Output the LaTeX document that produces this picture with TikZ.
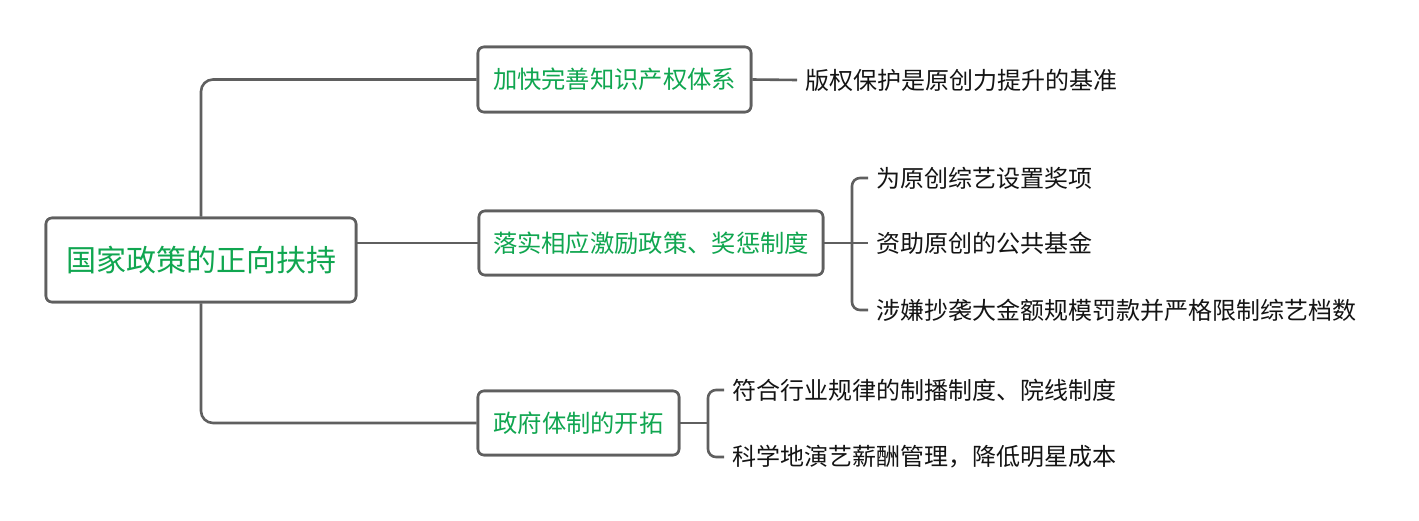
\documentclass[tikz,border=0pt]{standalone}
\usepackage{fontspec}
\newfontfamily\cjk{Noto Sans CJK SC}
\definecolor{linegray}{RGB}{95,95,95}
\definecolor{tgreen}{RGB}{16,166,80}
\definecolor{ttext}{RGB}{20,20,20}
\begin{document}
\begin{tikzpicture}[x=1pt,y=-1pt,
  box/.style={draw=linegray,line width=2.6pt,rounded corners=6pt,fill=white,
    text=tgreen,inner sep=0pt,font=\cjk\fontsize{24.3}{27}\selectfont},
  leaf/.style={anchor=west,inner xsep=8pt,inner ysep=2pt,text=ttext,font=\cjk\fontsize{24}{27}\selectfont},
  conn/.style={draw=linegray,line width=2.6pt,rounded corners=12pt},
  brk/.style={draw=linegray,line width=2.6pt,rounded corners=8pt}]
\useasboundingbox[fill=white] (0,0) rectangle (1419,520);
% main boxes
\node[box,minimum width=310pt,minimum height=84pt,font=\cjk\fontsize{30}{34}\selectfont] (root) at (201,260) {国家政策的正向扶持};
\node[box,minimum width=273pt,minimum height=65pt] (b1) at (614.5,79.5) {加快完善知识产权体系};
\node[box,minimum width=344pt,minimum height=64pt] (b2) at (651,243) {落实相应激励政策、奖惩制度};
\node[box,minimum width=201pt,minimum height=64pt] (b3) at (578.5,423) {政府体制的开拓};
% leaves
\node[leaf] (l1) at (797,80) {版权保护是原创力提升的基准};
\node[leaf] (l21) at (868,178) {为原创综艺设置奖项};
\node[leaf] (l22) at (868,243) {资助原创的公共基金};
\node[leaf] (l23) at (868,310) {涉嫌抄袭大金额规模罚款并严格限制综艺档数};
\node[leaf] (l31) at (724,390) {符合行业规律的制播制度、院线制度};
\node[leaf] (l32) at (724,457) {科学地演艺薪酬管理，降低明星成本};
\coordinate (j2) at (852,243);
\coordinate (j3) at (708,423);
% connectors
\draw[conn] (root.north) |- (b1.west);
\draw[conn] (root.south) |- (b3.west);
\draw[conn] (root.east |- b2.west) -- (b2.west);
\draw[conn] (b1.east) -- (l1.west);
\draw[conn] (b2.east) -- (j2);
\draw[brk] (l21.west) -| (j2) |- (l23.west);
\draw[brk] (j2) -- (l22.west);
\draw[conn] (b3.east) -- (j3);
\draw[brk] (l31.west) -| (j3) |- (l32.west);
% redraw boxes on top of connector ends
\node[box,minimum width=310pt,minimum height=84pt,font=\cjk\fontsize{30}{34}\selectfont] at (201,260) {国家政策的正向扶持};
\node[box,minimum width=273pt,minimum height=65pt] at (614.5,79.5) {加快完善知识产权体系};
\node[box,minimum width=344pt,minimum height=64pt] at (651,243) {落实相应激励政策、奖惩制度};
\node[box,minimum width=201pt,minimum height=64pt] at (578.5,423) {政府体制的开拓};
\end{tikzpicture}
\end{document}
